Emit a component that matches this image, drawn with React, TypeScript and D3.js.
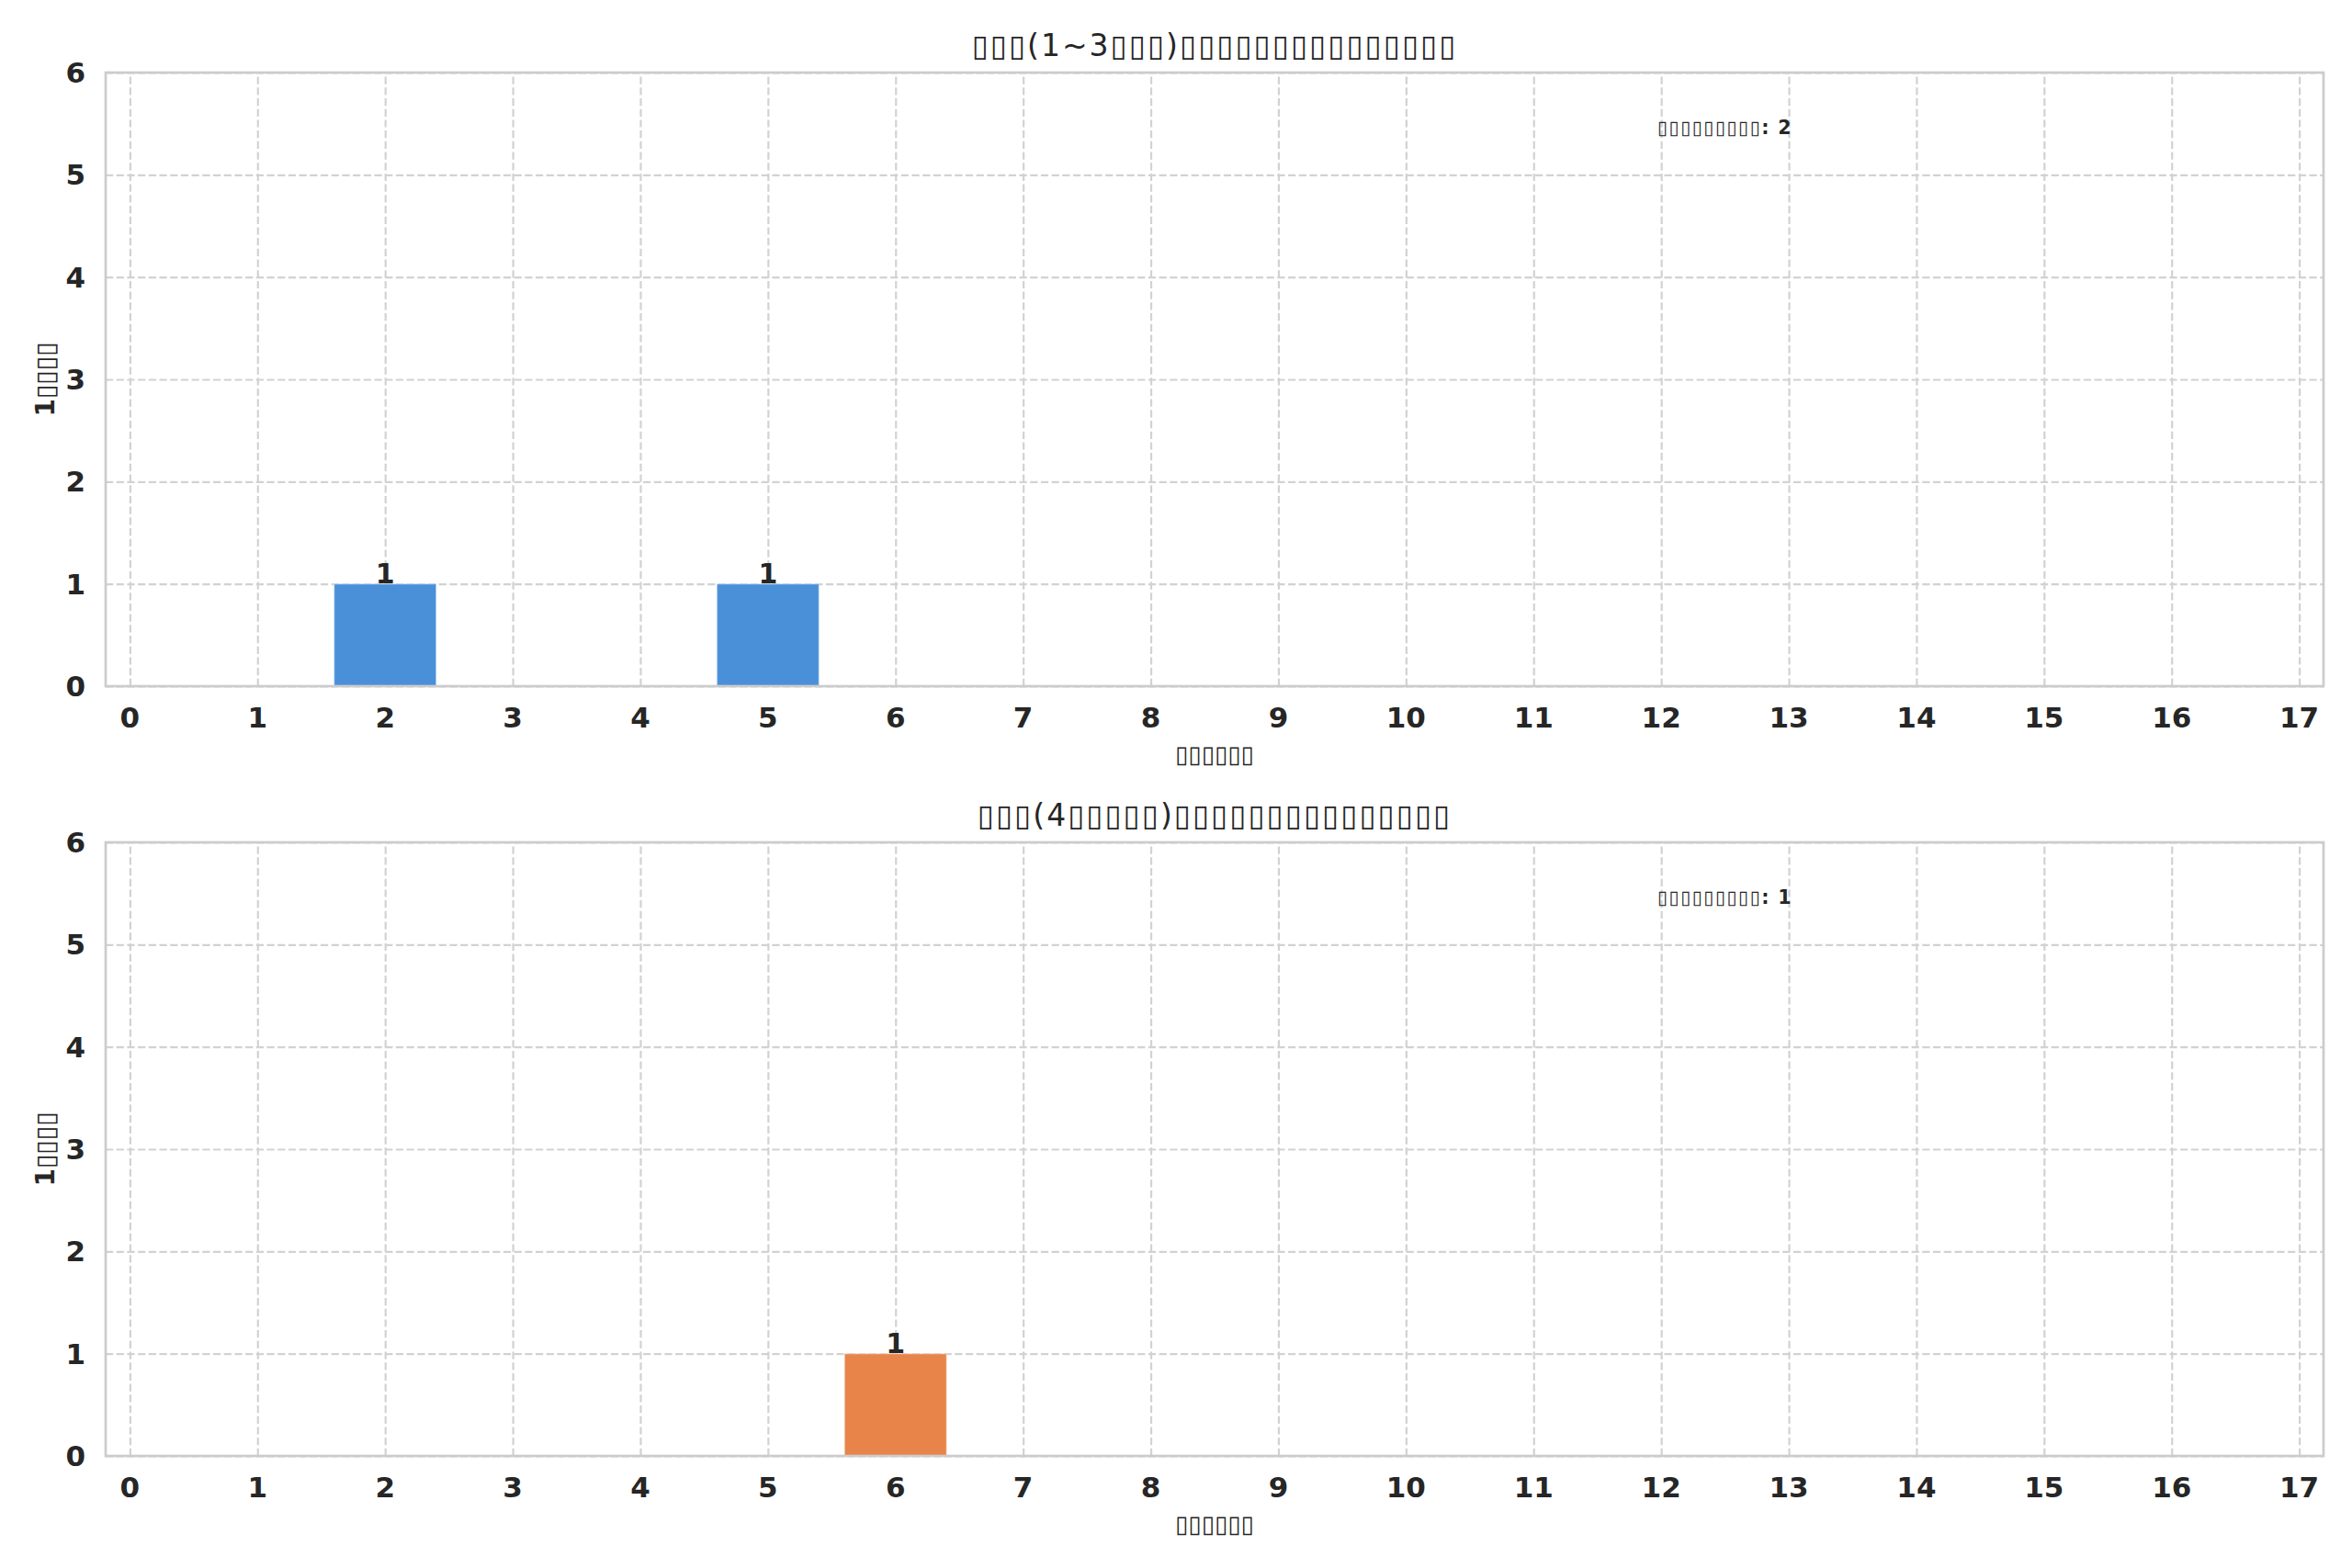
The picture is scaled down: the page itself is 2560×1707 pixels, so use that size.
import { useEffect, useRef } from "react";
import * as d3 from "d3";

// ─── Data ────────────────────────────────────────────────────────────────────
const dailyCounts = [0, 1, 2, 3, 4, 5, 6, 7, 8, 9, 10, 11, 12, 13, 14, 15, 16, 17];
const lowerGradeUsers = [0, 0, 1, 0, 0, 1, 0, 0, 0, 0, 0, 0, 0, 0, 0, 0, 0, 0];
const upperGradeUsers = [0, 0, 0, 0, 0, 0, 1, 0, 0, 0, 0, 0, 0, 0, 0, 0, 0, 0];
const yTicks = [0, 1, 2, 3, 4, 5, 6];

// the source rendered its CJK labels as missing-glyph boxes
const B = "▯";
const panelTitles = [
  `${B.repeat(3)}(1~3${B.repeat(3)})${B.repeat(15)}`,
  `${B.repeat(3)}(4${B.repeat(5)})${B.repeat(15)}`,
];
const xLabel = B.repeat(6);
const yLabel = `1${B.repeat(4)}`;
const noteLabel = B.repeat(9);
const barColors = ["#4a90d9", "#e8844a"];

const W = 2560;
const H = 1707;
const FONT = "'DejaVu Sans', sans-serif";
const TEXT = "#262626";

export default function App() {
  const svgRef = useRef<SVGSVGElement>(null);

  useEffect(() => {
    if (!svgRef.current) return;
    const svg = d3.select(svgRef.current);
    svg.selectAll("*").remove();

    const left = 115;
    const right = 2529;
    const panels = [
      { top: 79, bottom: 747, values: lowerGradeUsers },
      { top: 917, bottom: 1585, values: upperGradeUsers },
    ];

    const x = d3.scaleLinear().domain([-0.19, 17.19]).range([left, right]);

    panels.forEach((p, pi) => {
      const y = d3.scaleLinear().domain([0, 6]).range([p.bottom, p.top]);
      const g = svg.append("g");
      const innerH = p.bottom - p.top;
      const innerW = right - left;

      // ── Grid (dashed, both directions) ──────────────────────────────────
      const gx = g
        .append("g")
        .attr("transform", `translate(0,${p.bottom})`)
        .call(d3.axisBottom(x).tickValues(dailyCounts).tickSize(-innerH).tickFormat(() => ""));
      gx.select(".domain").remove();
      gx.selectAll("line")
        .attr("stroke", "#d2d2d2")
        .attr("stroke-width", 2.2)
        .attr("stroke-dasharray", "8.2 3.5");

      const gy = g
        .append("g")
        .attr("transform", `translate(${left},0)`)
        .call(d3.axisLeft(y).tickValues(yTicks).tickSize(-innerW).tickFormat(() => ""));
      gy.select(".domain").remove();
      gy.selectAll("line")
        .attr("stroke", "#d2d2d2")
        .attr("stroke-width", 2.2)
        .attr("stroke-dasharray", "8.2 3.5");

      // ── Bars ────────────────────────────────────────────────────────────
      const bw = x(0.4) - x(0);
      const data = dailyCounts.map((c, i) => ({ c, v: p.values[i] }));
      g.selectAll(".bar")
        .data(data)
        .enter()
        .append("rect")
        .attr("x", (d) => x(d.c) - bw)
        .attr("width", bw * 2)
        .attr("y", (d) => y(d.v))
        .attr("height", (d) => y(0) - y(d.v))
        .attr("fill", barColors[pi])
        .attr("stroke", "#ffffff")
        .attr("stroke-opacity", 0.35)
        .attr("stroke-width", 1.5);

      g.selectAll(".bar-label")
        .data(data.filter((d) => d.v > 0))
        .enter()
        .append("text")
        .attr("x", (d) => x(d.c))
        .attr("y", (d) => y(d.v) - 1)
        .attr("text-anchor", "middle")
        .attr("font-family", FONT)
        .attr("font-weight", "bold")
        .attr("font-size", 30)
        .attr("fill", TEXT)
        .text((d) => d.v);

      // ── Frame ───────────────────────────────────────────────────────────
      g.append("rect")
        .attr("x", left)
        .attr("y", p.top)
        .attr("width", innerW)
        .attr("height", innerH)
        .attr("fill", "none")
        .attr("stroke", "#cccccc")
        .attr("stroke-width", 2.7);

      // ── Tick labels ─────────────────────────────────────────────────────
      g.selectAll(".xt")
        .data(dailyCounts)
        .enter()
        .append("text")
        .attr("x", (d) => x(d))
        .attr("y", p.bottom + 45)
        .attr("text-anchor", "middle")
        .attr("font-family", FONT)
        .attr("font-weight", "bold")
        .attr("font-size", 31)
        .attr("fill", TEXT)
        .text((d) => d);

      g.selectAll(".yt")
        .data(yTicks)
        .enter()
        .append("text")
        .attr("x", 93)
        .attr("y", (d) => y(d))
        .attr("dy", "0.36em")
        .attr("text-anchor", "end")
        .attr("font-family", FONT)
        .attr("font-weight", "bold")
        .attr("font-size", 31)
        .attr("fill", TEXT)
        .text((d) => d);

      // ── Labels & title ──────────────────────────────────────────────────
      g.append("text")
        .attr("x", (left + right) / 2)
        .attr("y", p.bottom + 83)
        .attr("text-anchor", "middle")
        .attr("font-family", FONT)
        .attr("font-weight", "bold")
        .attr("font-size", 26)
        .attr("fill", TEXT)
        .text(xLabel);

      g.append("text")
        .attr("transform", `translate(59,${(p.top + p.bottom) / 2}) rotate(-90)`)
        .attr("text-anchor", "middle")
        .attr("font-family", FONT)
        .attr("font-weight", "bold")
        .attr("font-size", 28)
        .attr("fill", TEXT)
        .text(yLabel);

      g.append("text")
        .attr("x", (left + right) / 2)
        .attr("y", p.top - 18)
        .attr("text-anchor", "middle")
        .attr("font-family", FONT)
        .attr("font-size", 33)
        .attr("letter-spacing", 2)
        .attr("fill", TEXT)
        .text(panelTitles[pi]);

      g.append("text")
        .attr("x", 1804)
        .attr("y", p.top + 67)
        .attr("font-family", FONT)
        .attr("font-weight", "bold")
        .attr("font-size", 20.5)
        .attr("letter-spacing", 1.3)
        .attr("fill", TEXT)
        .text(`${noteLabel}: ${d3.sum(p.values)}`);
    });
  }, []);

  return (
    <svg
      ref={svgRef}
      width={W}
      height={H}
      viewBox={`0 0 ${W} ${H}`}
      style={{ position: "absolute", left: 0, top: 0, background: "#ffffff" }}
    />
  );
}
